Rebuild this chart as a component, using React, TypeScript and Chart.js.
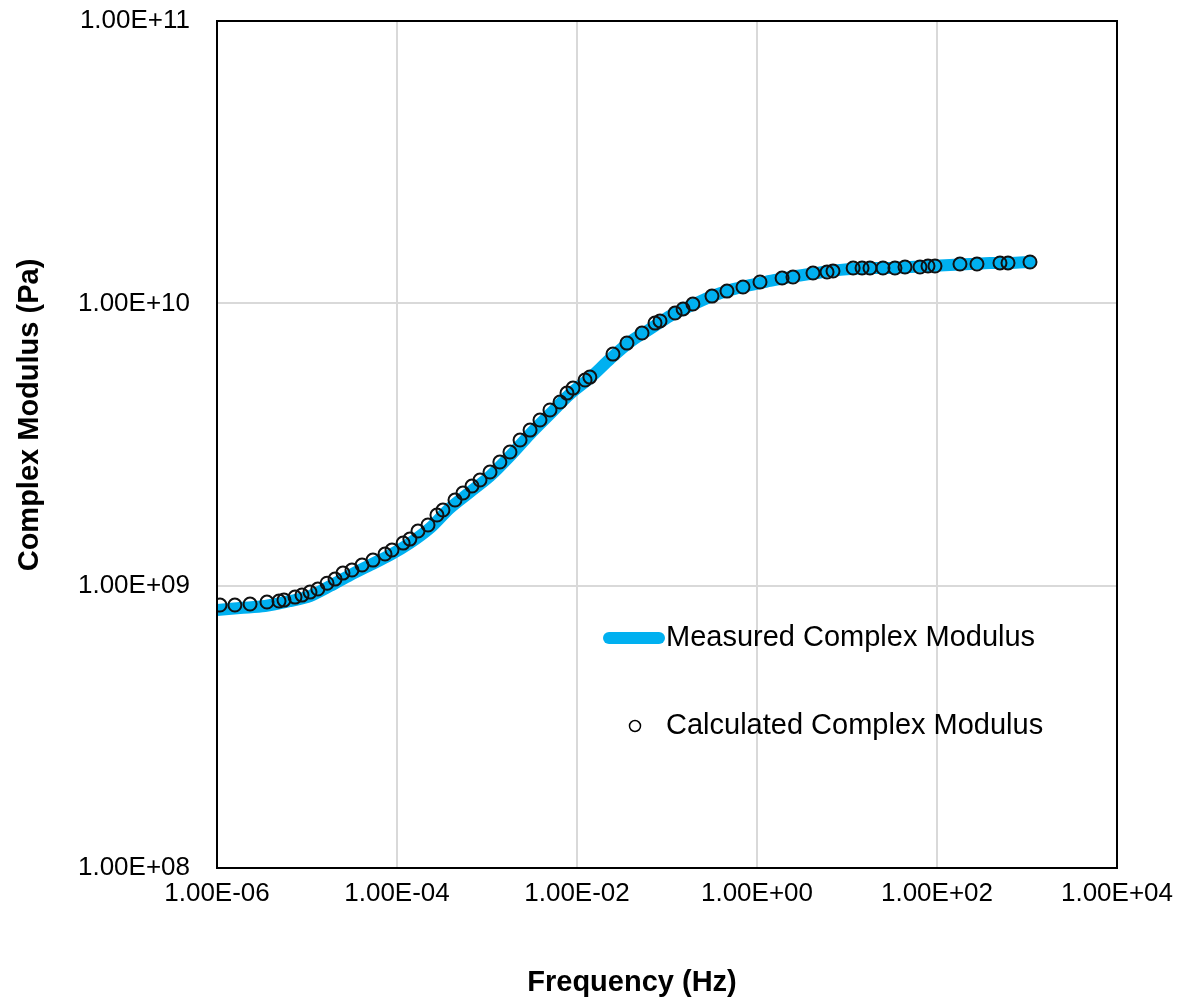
import React, { useEffect, useRef } from "react";
import { Chart, registerables } from "chart.js";

Chart.register(...registerables);

// ---- Data ----
const measFreq = [1e-6, 1.8e-6, 3.41e-6, 6.48e-6, 1.08e-5, 1.8e-5, 3.01e-5, 5.01e-5, 8.36e-5, 1.39e-4, 2.33e-4, 3.88e-4, 6.48e-4, 1.08e-3, 1.8e-3, 3.01e-3, 5.01e-3, 8.36e-3, 1.39e-2, 2.33e-2, 3.88e-2, 6.48e-2, 0.108, 0.18, 0.301, 0.501, 0.836, 1.39, 2.33, 3.88, 6.48, 10.8, 18.0, 30.1, 50.1, 83.6, 139, 233, 388, 648, 1080];
const measModulus = [8.19e8, 8.33e8, 8.47e8, 8.82e8, 9.19e8, 9.97e8, 1.09e9, 1.183e9, 1.283e9, 1.415e9, 1.6e9, 1.883e9, 2.146e9, 2.444e9, 2.878e9, 3.443e9, 4.055e9, 4.772e9, 5.438e9, 6.35e9, 7.3e9, 8.11e9, 9.02e9, 9.78e9, 1.053e10, 1.115e10, 1.161e10, 1.2e10, 1.239e10, 1.27e10, 1.301e10, 1.323e10, 1.334e10, 1.334e10, 1.345e10, 1.356e10, 1.367e10, 1.378e10, 1.39e10, 1.39e10, 1.401e10];

const calcFreq = [1.08e-6, 1.58e-6, 2.33e-6, 3.59e-6, 4.89e-6, 5.55e-6, 7.36e-6, 8.8e-6, 1.08e-5, 1.32e-5, 1.67e-5, 2.05e-5, 2.51e-5, 3.16e-5, 4.09e-5, 5.41e-5, 7.36e-5, 8.8e-5, 1.17e-4, 1.39e-4, 1.71e-4, 2.21e-4, 2.78e-4, 3.24e-4, 4.41e-4, 5.41e-4, 6.81e-4, 8.36e-4, 1.08e-3, 1.39e-3, 1.8e-3, 2.33e-3, 3.01e-3, 3.88e-3, 5.01e-3, 6.48e-3, 7.74e-3, 9.03e-3, 1.23e-2, 1.39e-2, 2.51e-2, 3.59e-2, 5.28e-2, 7.36e-2, 8.36e-2, 0.123, 0.151, 0.194, 0.316, 0.464, 0.699, 1.08, 1.9, 2.51, 4.19, 6.0, 6.99, 11.7, 14.7, 18.0, 25.1, 34.1, 44.1, 64.7, 79.4, 95, 180, 278, 501, 615, 1080];
const calcModulus = [8.54e8, 8.54e8, 8.61e8, 8.75e8, 8.82e8, 8.89e8, 9.11e8, 9.26e8, 9.49e8, 9.73e8, 1.02e9, 1.055e9, 1.108e9, 1.136e9, 1.183e9, 1.232e9, 1.294e9, 1.337e9, 1.415e9, 1.462e9, 1.561e9, 1.64e9, 1.779e9, 1.853e9, 2.01e9, 2.128e9, 2.253e9, 2.366e9, 2.526e9, 2.741e9, 2.973e9, 3.28e9, 3.557e9, 3.86e9, 4.19e9, 4.47e9, 4.81e9, 5.01e9, 5.35e9, 5.48e9, 6.61e9, 7.23e9, 7.85e9, 8.51e9, 8.66e9, 9.24e9, 9.55e9, 9.94e9, 1.061e10, 1.105e10, 1.142e10, 1.19e10, 1.229e10, 1.239e10, 1.28e10, 1.291e10, 1.301e10, 1.334e10, 1.334e10, 1.334e10, 1.334e10, 1.334e10, 1.345e10, 1.345e10, 1.356e10, 1.356e10, 1.378e10, 1.378e10, 1.39e10, 1.39e10, 1.401e10];

const xTicks = [1e-6, 1e-4, 1e-2, 1, 1e2, 1e4];
const yTicks = [1e8, 1e9, 1e10, 1e11];

const seriesNames = ["Measured Complex Modulus", "Calculated Complex Modulus"];
const xTitle = "Frequency (Hz)";
const yTitle = "Complex Modulus (Pa)";

const FONT = "'Liberation Sans', Arial, Helvetica, sans-serif";
const BLUE = "#00B0F0";

function fmtExp(v: number): string {
  const [m, e] = v.toExponential(2).split("e");
  const n = parseInt(e, 10);
  const a = Math.abs(n);
  return `${m}E${n < 0 ? "-" : "+"}${a < 10 ? "0" + a : a}`;
}

const overlay = {
  id: "overlay",
  afterDatasetsDraw(chart: any) {
    const { ctx, chartArea } = chart;
    const { left, top, right, bottom } = chartArea;
    ctx.save();
    // plot frame
    ctx.strokeStyle = "#000";
    ctx.lineWidth = 2;
    ctx.strokeRect(left, top, right - left, bottom - top);

    // legend
    ctx.font = `29px ${FONT}`;
    ctx.fillStyle = "#000";
    ctx.textAlign = "left";
    ctx.textBaseline = "middle";
    ctx.strokeStyle = BLUE;
    ctx.lineWidth = 12;
    ctx.lineCap = "round";
    ctx.beginPath();
    ctx.moveTo(609, 638);
    ctx.lineTo(659, 638);
    ctx.stroke();
    ctx.fillText(seriesNames[0], 666, 638);

    ctx.strokeStyle = "#000";
    ctx.lineWidth = 1.5;
    ctx.beginPath();
    ctx.arc(635, 726, 5.5, 0, Math.PI * 2);
    ctx.stroke();
    ctx.fillText(seriesNames[1], 666, 726);

    // axis titles
    ctx.font = `bold 29px ${FONT}`;
    ctx.textAlign = "center";
    ctx.fillText(xTitle, 632, 983);
    ctx.translate(30, 415);
    ctx.rotate(-Math.PI / 2);
    ctx.fillText(yTitle, 0, 0);
    ctx.restore();
  },
};

export default function App() {
  const ref = useRef<HTMLCanvasElement | null>(null);

  useEffect(() => {
    document.body.style.margin = "0";
    const canvas = ref.current;
    if (!canvas) return;
    const chart = new Chart(canvas, {
      type: "scatter",
      data: {
        datasets: [
          {
            label: seriesNames[1],
            data: calcFreq.map((f, i) => ({ x: f, y: calcModulus[i] })),
            showLine: false,
            pointRadius: 6.5,
            pointBorderWidth: 2,
            pointBorderColor: "#111",
            pointBackgroundColor: "rgba(0,0,0,0)",
            pointStyle: "circle",
            order: 0,
          },
          {
            label: seriesNames[0],
            data: measFreq.map((f, i) => ({ x: f, y: measModulus[i] })),
            showLine: true,
            borderColor: BLUE,
            borderWidth: 12,
            borderCapStyle: "round",
            borderJoinStyle: "round",
            pointRadius: 0,
            tension: 0.3,
            clip: 0,
            order: 1,
          },
        ],
      } as any,
      options: {
        responsive: false,
        animation: false,
        devicePixelRatio: 1,
        layout: { padding: { left: 0, right: 68, top: 21, bottom: 0 } },
        plugins: {
          legend: { display: false },
          tooltip: { enabled: false },
          title: { display: false },
        },
        scales: {
          x: {
            type: "logarithmic",
            min: 1e-6,
            max: 1e4,
            afterBuildTicks: (s: any) => {
              s.ticks = xTicks.map((v) => ({ value: v }));
            },
            afterFit: (s: any) => {
              s.height = 136;
              s.paddingLeft = 0;
              s.paddingRight = 0;
            },
            grid: { color: "#d9d9d9", lineWidth: 2, drawTicks: false },
            border: { display: false },
            ticks: {
              autoSkip: false,
              maxRotation: 0,
              padding: 10,
              color: "#000",
              font: { family: FONT, size: 26 },
              callback: (v: any) => fmtExp(Number(v)),
            },
          },
          y: {
            type: "logarithmic",
            min: 1e8,
            max: 1e11,
            afterBuildTicks: (s: any) => {
              s.ticks = yTicks.map((v) => ({ value: v }));
            },
            afterFit: (s: any) => {
              s.width = 217;
              s.paddingTop = 0;
              s.paddingBottom = 0;
            },
            grid: { color: "#d9d9d9", lineWidth: 2, drawTicks: false },
            border: { display: false },
            ticks: {
              autoSkip: false,
              padding: 27,
              color: "#000",
              font: { family: FONT, size: 26 },
              callback: (v: any) => fmtExp(Number(v)),
            },
          },
        },
      } as any,
      plugins: [overlay],
    });
    return () => chart.destroy();
  }, []);

  return (
    <div style={{ position: "fixed", left: 0, top: 0, width: 1185, height: 1004, background: "#fff" }}>
      <canvas ref={ref} width={1185} height={1004} style={{ display: "block", width: 1185, height: 1004 }} />
    </div>
  );
}
